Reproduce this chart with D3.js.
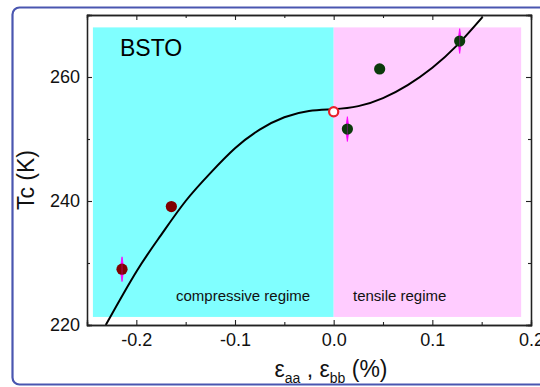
<!DOCTYPE html>
<html>
<head>
<meta charset="utf-8">
<script src="https://cdn.jsdelivr.net/npm/d3@7"></script>
<style>
  html, body { margin: 0; padding: 0; background: #fff; }
  svg { display: block; font-family: "Liberation Sans", Arial, sans-serif; }
</style>
</head>
<body>
<svg id="chart" width="540" height="387"></svg>
<script>
// Strain (%) vs transition temperature Tc (K) for BSTO films
const xTicksMajor = [-0.2, -0.1, 0.0, 0.1, 0.2];
const xTicksMinor = [-0.25, -0.15, -0.05, 0.05, 0.15];
const yTicksMajor = [220, 240, 260];
const yTicksMinor = [230, 250, 270];

// compressive-side samples
const compStrain = [-0.2145, -0.1645];
const compTc = [229.0, 239.1];
const compErr = [2.0, 0];

// tensile-side samples
const tensStrain = [0.0139, 0.0466, 0.1277];
const tensTc = [251.6, 261.3, 265.8];
const tensErr = [2.0, 0, 2.0];

// unstrained reference
const refStrain = [0.0];
const refTc = [254.4];

// guide curve through the data
const fitStrain = [-0.231, -0.2, -0.175, -0.15, -0.125, -0.1, -0.075, -0.05, -0.025, 0.0, 0.025, 0.05, 0.075, 0.1, 0.125, 0.151];
const fitTc = [220.0, 228.6, 234.5, 240.0, 244.5, 248.5, 251.5, 253.5, 254.5, 254.8, 255.3, 256.6, 258.7, 261.5, 265.1, 269.7];

// shaded strain regimes
const regimeNames = ["compressive regime", "tensile regime"];
const regimeFrom = [-0.244, 0.0];
const regimeTo = [0.0, 0.19];
const regimeTcLow = 221.3;
const regimeTcHigh = 268.0;

const svg = d3.select("#chart");
const plotLeft = 87, plotRight = 531, plotTop = 15, plotBottom = 325;

const x = d3.scaleLinear().domain([-0.25, 0.2]).range([plotLeft, plotRight]);
const y = d3.scaleLinear().domain([220, 270]).range([plotBottom, plotTop]);

// outer frame
svg.append("rect")
  .attr("x", 12.5).attr("y", 7.5)
  .attr("width", 560).attr("height", 377)
  .attr("rx", 7).attr("ry", 7)
  .attr("fill", "none")
  .attr("stroke", "#4a56b0")
  .attr("stroke-width", 2.2);

// regime backgrounds
const regimeFill = ["#80ffff", "#ffccff"];
svg.selectAll("rect.regime")
  .data(regimeNames)
  .join("rect")
  .attr("class", "regime")
  .attr("x", (d, i) => x(regimeFrom[i]))
  .attr("y", y(regimeTcHigh))
  .attr("width", (d, i) => x(regimeTo[i]) - x(regimeFrom[i]))
  .attr("height", y(regimeTcLow) - y(regimeTcHigh))
  .attr("fill", (d, i) => regimeFill[i]);

svg.append("text")
  .attr("x", 176).attr("y", 301)
  .attr("font-size", 15).attr("fill", "#111")
  .text(regimeNames[0]);
svg.append("text")
  .attr("x", 353).attr("y", 301)
  .attr("font-size", 15).attr("fill", "#111")
  .text(regimeNames[1]);

svg.append("text")
  .attr("x", 120).attr("y", 56)
  .attr("font-size", 23).attr("fill", "#000")
  .text("BSTO");

// guide curve
svg.append("defs").append("clipPath").attr("id", "plotClip")
  .append("rect").attr("x", plotLeft).attr("y", plotTop)
  .attr("width", plotRight - plotLeft).attr("height", plotBottom - plotTop);

const fitLine = d3.line()
  .x((d, i) => x(fitStrain[i]))
  .y((d, i) => y(fitTc[i]))
  .curve(d3.curveNatural);

svg.append("path")
  .datum(fitStrain)
  .attr("clip-path", "url(#plotClip)")
  .attr("d", fitLine)
  .attr("fill", "none")
  .attr("stroke", "#000")
  .attr("stroke-width", 2);

// error bars drawn as slim diamonds
function errorBars(xs, ts, es) {
  const idx = d3.range(xs.length).filter(i => es[i] > 0);
  const g = svg.append("g");
  g.selectAll("path")
    .data(idx)
    .join("path")
    .attr("d", i => {
      const cx = x(xs[i]);
      const y0 = y(ts[i] + es[i]), y1 = y(ts[i]), y2 = y(ts[i] - es[i]);
      return d3.line()([[cx, y0], [cx + 1.8, y1], [cx, y2], [cx - 1.8, y1]]) + "Z";
    })
    .attr("fill", "#ff00ff")
    .attr("stroke", "#ff00ff")
    .attr("stroke-width", 0.8);
}
errorBars(compStrain, compTc, compErr);
errorBars(tensStrain, tensTc, tensErr);

// data points
svg.append("g").selectAll("circle")
  .data(compStrain)
  .join("circle")
  .attr("cx", d => x(d))
  .attr("cy", (d, i) => y(compTc[i]))
  .attr("r", 5.6)
  .attr("fill", "#800000");

svg.append("g").selectAll("circle")
  .data(tensStrain)
  .join("circle")
  .attr("cx", d => x(d))
  .attr("cy", (d, i) => y(tensTc[i]))
  .attr("r", 5.6)
  .attr("fill", "#0b3a0b");

svg.append("g").selectAll("circle")
  .data(refStrain)
  .join("circle")
  .attr("cx", d => x(d))
  .attr("cy", (d, i) => y(refTc[i]))
  .attr("r", 4.6)
  .attr("fill", "#fff")
  .attr("stroke", "#e8202a")
  .attr("stroke-width", 2.2);

// faint error bar line through each marker
function errorLines(xs, ts, es) {
  const idx = d3.range(xs.length).filter(i => es[i] > 0);
  svg.append("g").selectAll("line")
    .data(idx)
    .join("line")
    .attr("x1", i => x(xs[i])).attr("x2", i => x(xs[i]))
    .attr("y1", i => y(ts[i] + es[i]) + 1).attr("y2", i => y(ts[i] - es[i]) - 1)
    .attr("stroke", "#ff00ff")
    .attr("stroke-opacity", 0.35)
    .attr("stroke-width", 1);
}
errorLines(compStrain, compTc, compErr);
errorLines(tensStrain, tensTc, tensErr);

// axes, all ticks pointing inward
function styleAxis(g) {
  g.select(".domain").attr("stroke", "#222").attr("stroke-width", 1.3);
  g.selectAll(".tick line").attr("stroke", "#222").attr("stroke-width", 1.1);
  g.selectAll(".tick text").attr("fill", "#111").attr("font-size", 18)
    .attr("font-family", "'Liberation Sans', Arial, sans-serif");
}

const fmtX = d => d.toFixed(1);
const fmtY = d => String(d);

svg.append("g")
  .attr("transform", `translate(0,${plotBottom})`)
  .call(d3.axisBottom(x).tickValues(xTicksMajor).tickFormat(fmtX).tickSize(-5).tickPadding(8))
  .call(styleAxis);
svg.append("g")
  .attr("transform", `translate(0,${plotBottom})`)
  .call(d3.axisBottom(x).tickValues(xTicksMinor).tickFormat("").tickSize(-3))
  .call(styleAxis);

svg.append("g")
  .attr("transform", `translate(0,${plotTop})`)
  .call(d3.axisTop(x).tickValues(xTicksMajor).tickFormat("").tickSize(-5))
  .call(styleAxis);
svg.append("g")
  .attr("transform", `translate(0,${plotTop})`)
  .call(d3.axisTop(x).tickValues(xTicksMinor).tickFormat("").tickSize(-3))
  .call(styleAxis);

svg.append("g")
  .attr("transform", `translate(${plotLeft},0)`)
  .call(d3.axisLeft(y).tickValues(yTicksMajor).tickFormat(fmtY).tickSize(-5).tickPadding(7))
  .call(styleAxis);
svg.append("g")
  .attr("transform", `translate(${plotLeft},0)`)
  .call(d3.axisLeft(y).tickValues(yTicksMinor).tickFormat("").tickSize(-3))
  .call(styleAxis);

svg.append("g")
  .attr("transform", `translate(${plotRight},0)`)
  .call(d3.axisRight(y).tickValues(yTicksMajor).tickFormat("").tickSize(-5))
  .call(styleAxis);
svg.append("g")
  .attr("transform", `translate(${plotRight},0)`)
  .call(d3.axisRight(y).tickValues(yTicksMinor).tickFormat("").tickSize(-3))
  .call(styleAxis);

// axis titles
const xt = svg.append("text")
  .attr("x", 331).attr("y", 377)
  .attr("text-anchor", "middle")
  .attr("font-size", 23)
  .attr("fill", "#111");
xt.append("tspan").text("ε");
xt.append("tspan").attr("font-size", 14).attr("dy", 6).text("aa");
xt.append("tspan").attr("dy", -6).text(" , ε");
xt.append("tspan").attr("font-size", 14).attr("dy", 6).text("bb");
xt.append("tspan").attr("dy", -6).text(" (%)");

svg.append("text")
  .attr("transform", "translate(34,180) rotate(-90)")
  .attr("text-anchor", "middle")
  .attr("font-size", 23)
  .attr("fill", "#111")
  .text("Tc (K)");
</script>
</body>
</html>
